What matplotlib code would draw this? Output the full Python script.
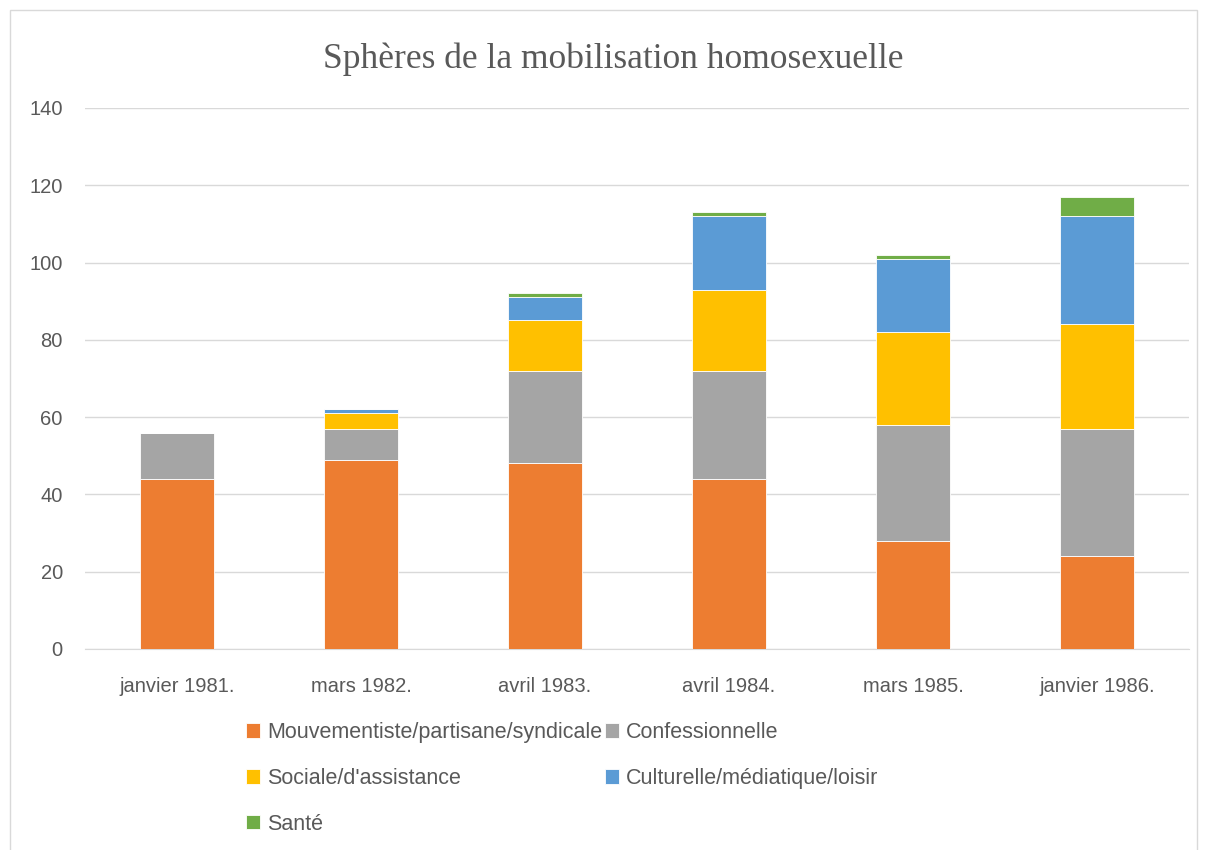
import numpy as np
import matplotlib.pyplot as plt
from matplotlib.patches import Rectangle

# Données
dates = ["janvier 1981.", "mars 1982.", "avril 1983.", "avril 1984.", "mars 1985.", "janvier 1986."]
mouvementiste = [44, 49, 48, 44, 28, 24]
confessionnelle = [12, 8, 24, 28, 30, 33]
sociale = [0, 4, 13, 21, 24, 27]
culturelle = [0, 1, 6, 19, 19, 28]
sante = [0, 0, 1, 1, 1, 5]

series = [
    ("Mouvementiste/partisane/syndicale", mouvementiste, "#ED7D31"),
    ("Confessionnelle", confessionnelle, "#A5A5A5"),
    ("Sociale/d'assistance", sociale, "#FFC000"),
    ("Culturelle/médiatique/loisir", culturelle, "#5B9BD5"),
    ("Santé", sante, "#70AD47"),
]

fig = plt.figure(figsize=(12.08, 8.5), dpi=100)
ax = fig.add_axes([0.0704, 0.2365, 0.914, 0.6365])

x = np.arange(len(dates))
bas = np.zeros(len(dates))
barres = {}
for nom, valeurs, couleur in series:
    b = ax.bar(x, valeurs, width=0.4, bottom=bas, color=couleur,
               edgecolor="white", linewidth=0.6, label=nom, zorder=3)
    barres[nom] = b
    bas += np.array(valeurs)

ax.set_xlim(-0.5, len(dates) - 0.5)
ax.set_ylim(0, 140)
ax.set_yticks(range(0, 141, 20))
ax.set_xticks(x)
ax.set_xticklabels(dates)
ax.grid(axis="y", color="#D9D9D9", linewidth=1, zorder=0)
for s in ["top", "right", "left"]:
    ax.spines[s].set_visible(False)
ax.spines["bottom"].set_color("#D9D9D9")
ax.tick_params(axis="both", length=0, labelsize=14.5, labelcolor="#595959")
ax.tick_params(axis="y", pad=16)
ax.tick_params(axis="x", pad=20)
for lab in ax.get_xticklabels() + ax.get_yticklabels():
    lab.set_fontfamily("Liberation Sans")

fig.suptitle("Sphères de la mobilisation homosexuelle", x=0.508, y=0.95, fontsize=25.5,
             color="#595959", fontfamily="Liberation Serif")

# ordre pour remplir les colonnes comme dans Excel
ordre = ["Mouvementiste/partisane/syndicale", "Sociale/d'assistance", "Santé",
         "Confessionnelle", "Culturelle/médiatique/loisir"]
leg = fig.legend([barres[n] for n in ordre], ordre, ncol=2, loc="upper left",
                 bbox_to_anchor=(0.195, 0.163), frameon=False,
                 prop={"family": "Liberation Sans", "size": 15.5},
                 handlelength=0.65, handleheight=0.65, handletextpad=0.3,
                 columnspacing=0.15, labelspacing=1.15, borderpad=0)
for t in leg.get_texts():
    t.set_color("#595959")

# cadre du graphique
fig.patches.append(Rectangle((0.008, -0.01), 0.983, 0.998, transform=fig.transFigure,
                             fill=False, edgecolor="#D9D9D9", linewidth=1))

plt.savefig("out.png", dpi=100)
